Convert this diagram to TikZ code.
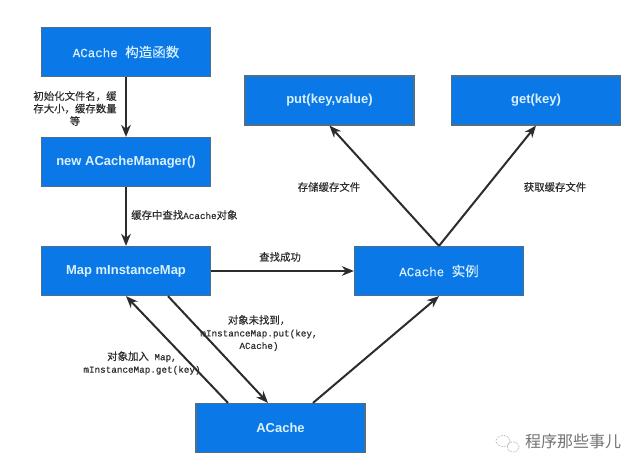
\documentclass[tikz,border=0pt]{standalone}
\usepackage{fontspec}
\setmainfont{Liberation Sans}
\newfontfamily\cjk[FakeBold=0.12]{Noto Sans CJK SC}
\newfontfamily\cjkmark{Noto Sans CJK SC}
\newfontfamily\lab[FakeBold=0.2]{Liberation Mono}
\usetikzlibrary{arrows.meta}
\definecolor{boxblue}{HTML}{0A78E6}
\definecolor{boxedge}{HTML}{4F6F88}
\definecolor{ink}{HTML}{2C2C2C}
\definecolor{titlecol}{HTML}{D8F0FF}
\newcommand{\zh}[1]{{\fontsize{10.4}{12.5}\selectfont\cjk #1}}
\tikzset{
  x=1pt,y=-1pt,
  blockbox/.style={draw=boxedge,line width=1.2pt,fill=boxblue,minimum width=169pt,minimum height=49pt,inner sep=0pt,text=titlecol,font=\fontsize{13}{15}\selectfont\bfseries},
  monobox/.style={blockbox,font=\fontsize{12.5}{15}\selectfont\lab},
  link/.style={draw=ink,line width=2pt,-{Stealth[length=12pt,width=9.5pt]}},
  tag/.style={text=ink,align=center,inner sep=0pt,font=\fontsize{9.3}{12.5}\selectfont\lab},
  wmark/.style={text=black!55,inner sep=0pt,font=\fontsize{16}{17}\selectfont\cjkmark},
  ring/.style={draw=black!45,line width=.6pt,densely dotted}
}
\begin{document}
\begin{tikzpicture}
\useasboundingbox (0,0) rectangle (640,471);
\fill[white] (0,0) rectangle (640,471);
\node[monobox] (ctor) at (126,52) {ACache {\fontsize{13.5}{15}\selectfont\cjk 构造函数}};
\node[blockbox] (mgr) at (126,162) {new ACacheManager()};
\node[blockbox] (map) at (126,271) {Map mInstanceMap};
\node[blockbox] (ac) at (280.5,428) {ACache};
\node[monobox] (inst) at (439,271) {ACache {\fontsize{13.5}{15}\selectfont\cjk 实例}};
\node[blockbox] (put) at (329.5,100.5) {put(key,value)};
\node[blockbox] (get) at (536,100.5) {get(key)};
\draw[link] (ctor) -- (mgr);
\draw[link] (mgr) -- (map);
\draw[link] (map) -- (inst);
\draw[link] ([xshift=42pt]map.south) -- ([xshift=-12.5pt]ac.north);
\draw[link] ([xshift=-52.5pt]ac.north) -- (map.south);
\draw[link] ([xshift=32.5pt]ac.north) -- (inst.south);
\draw[link] (inst.north) -- (put.south);
\draw[link] (inst.north) -- (get.south);
\node[tag] (t1) at (75,108.5) {\zh{初始化文件名，缓}\\\zh{存大小，缓存数量}\\\zh{等}};
\node[tag,anchor=west] (t2) at (131,215) {\zh{缓存中查找}Acache\zh{对象}};
\node[tag] (t3) at (280,257) {\zh{查找成功}};
\node[tag] (t4) at (259,333) {\zh{对象未找到，}\\mInstanceMap.put(key,\\ACache)};
\node[tag] (t5) at (142,363) {\zh{对象加入} Map,\\mInstanceMap.get(key)};
\node[tag] (t6) at (329,187) {\zh{存储缓存文件}};
\node[tag] (t7) at (555,187) {\zh{获取缓存文件}};
\node[wmark,anchor=west] (wm) at (525,441) {程序那些事儿};
\draw[ring] (503,441) ellipse (7pt and 5.5pt);
\draw[ring] (513,447) ellipse (6pt and 5pt);
\end{tikzpicture}
\end{document}
